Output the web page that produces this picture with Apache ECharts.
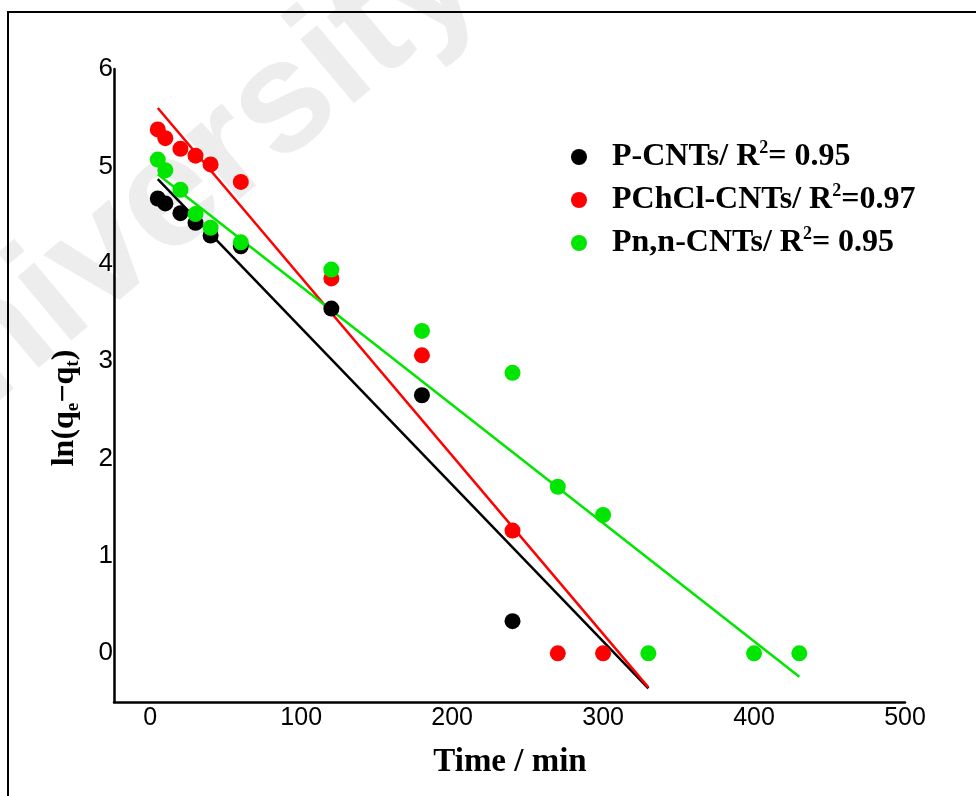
<!DOCTYPE html>
<html>
<head>
<meta charset="utf-8">
<script src="https://cdn.jsdelivr.net/npm/echarts@6/dist/echarts.min.js"></script>
<style>
  html, body { margin: 0; padding: 0; background: #fff; }
  #chart { width: 976px; height: 796px; }
</style>
</head>
<body>
<div id="chart"></div>
<script>
// Kinetic data: ln(qe - qt) versus contact time (min)
const xTicks = [0, 100, 200, 300, 400, 500];
const yTicks = [0, 1, 2, 3, 4, 5, 6];

const seriesNames = ['P-CNTs', 'PChCl-CNTs', 'Pn,n-CNTs'];
const r2Labels = ['= 0.95', '=0.97', '= 0.95'];

const timeP = [5, 10, 20, 30, 40, 60, 120, 180, 240];
const lnP   = [4.67, 4.62, 4.52, 4.42, 4.29, 4.18, 3.54, 2.65, 0.33];

const timeCl = [5, 10, 20, 30, 40, 60, 120, 180, 240, 270, 300];
const lnCl   = [5.38, 5.29, 5.18, 5.11, 5.02, 4.84, 3.85, 3.06, 1.26, 0, 0];

const timeN = [5, 10, 20, 30, 40, 60, 120, 180, 240, 270, 300, 330, 400, 430];
const lnN   = [5.07, 4.96, 4.76, 4.51, 4.37, 4.22, 3.94, 3.31, 2.88, 1.71, 1.42, 0, 0, 0];

// Linear fit end points (time, ln)
const fitP  = [[5, 4.87], [330, -0.36]];
const fitCl = [[5, 5.60], [330, -0.35]];
const fitN  = [[5, 4.92], [430, -0.24]];

const colors = ['#000000', '#ff0000', '#00e600'];

const pairs = (xs, ys) => xs.map((x, i) => [x, ys[i]]);
const scatterData = [pairs(timeP, lnP), pairs(timeCl, lnCl), pairs(timeN, lnN)];
const fitData = [fitP, fitCl, fitN];

const series = [];
fitData.forEach((d, i) => {
  series.push({
    name: seriesNames[i] + ' fit',
    type: 'line',
    data: d,
    showSymbol: false,
    silent: true,
    z: 2,
    lineStyle: { color: colors[i], width: 2.5 }
  });
});
scatterData.forEach((d, i) => {
  series.push({
    name: seriesNames[i],
    type: 'scatter',
    data: d,
    symbol: 'circle',
    symbolSize: 16,
    z: 3 + i,
    itemStyle: { color: colors[i], opacity: 1 }
  });
});

const serif = '"Liberation Serif", "Times New Roman", serif';
const sans = '"Liberation Sans", Arial, sans-serif';

const chart = echarts.init(document.getElementById('chart'), null, { renderer: 'canvas' });
chart.setOption({
  backgroundColor: '#ffffff',
  animation: false,
  grid: { left: 114, right: 71, top: 69, bottom: 94, containLabel: false },
  xAxis: {
    type: 'value',
    min: -24,
    max: 500,
    splitLine: { show: false },
    axisTick: { show: false },
    axisLine: { show: true, onZero: false, lineStyle: { color: '#000', width: 2.5 } },
    axisLabel: {
      customValues: xTicks,
      color: '#000',
      fontFamily: sans,
      fontSize: 25,
      margin: 4
    }
  },
  yAxis: {
    type: 'value',
    min: -0.5,
    max: 6,
    splitLine: { show: false },
    axisTick: { show: false },
    axisLine: { show: true, onZero: false, lineStyle: { color: '#000', width: 2.5 } },
    axisLabel: {
      customValues: yTicks,
      color: '#000',
      fontFamily: sans,
      fontSize: 26,
      margin: 1
    }
  },
  legend: {
    data: seriesNames,
    orient: 'vertical',
    left: 566,
    top: 134,
    itemWidth: 16,
    itemHeight: 16,
    itemGap: 9,
    icon: 'circle',
    formatter: function (name) {
      const i = seriesNames.indexOf(name);
      return '{b|' + name + '/ R}{sup|2}{b|' + r2Labels[i] + '}';
    },
    textStyle: {
      color: '#000',
      padding: [0, 0, 0, 20],
      rich: {
        b: { fontFamily: serif, fontWeight: 'bold', fontSize: 32, color: '#000', lineHeight: 36 },
        sup: { fontFamily: serif, fontWeight: 'bold', fontSize: 18, color: '#000', verticalAlign: 'top', lineHeight: 36, padding: [0, 0, 15, 0] }
      }
    }
  },
  graphic: [
    {
      type: 'text',
      z: -10,
      silent: true,
      x: 166,
      y: 204,
      rotation: 40 * Math.PI / 180,
      style: {
        text: 'University',
        fill: '#ededed',
        font: 'bold 158px ' + sans,
        align: 'center',
        verticalAlign: 'middle'
      }
    },
    {
      type: 'rect',
      z: 100,
      silent: true,
      shape: { x: 8, y: 12, width: 1000, height: 1000 },
      style: { fill: 'none', stroke: '#000', lineWidth: 2 }
    },
    {
      type: 'text',
      z: 100,
      x: 510,
      y: 762,
      style: {
        text: 'Time / min',
        fill: '#000',
        font: 'bold 33px ' + serif,
        align: 'center',
        verticalAlign: 'middle'
      }
    },
    {
      type: 'text',
      z: 100,
      x: 65,
      y: 408,
      rotation: Math.PI / 2,
      style: {
        text: '{m|ln(q}{s|e}{m|−q}{s|t}{m|)}',
        align: 'center',
        verticalAlign: 'middle',
        rich: {
          m: { font: 'bold 32px ' + serif, fill: '#000', lineHeight: 36 },
          s: { font: 'bold 19px ' + serif, fill: '#000', verticalAlign: 'bottom', lineHeight: 36, padding: [9, 0, 0, 0] }
        }
      }
    }
  ],
  series: series
});
</script>
</body>
</html>
